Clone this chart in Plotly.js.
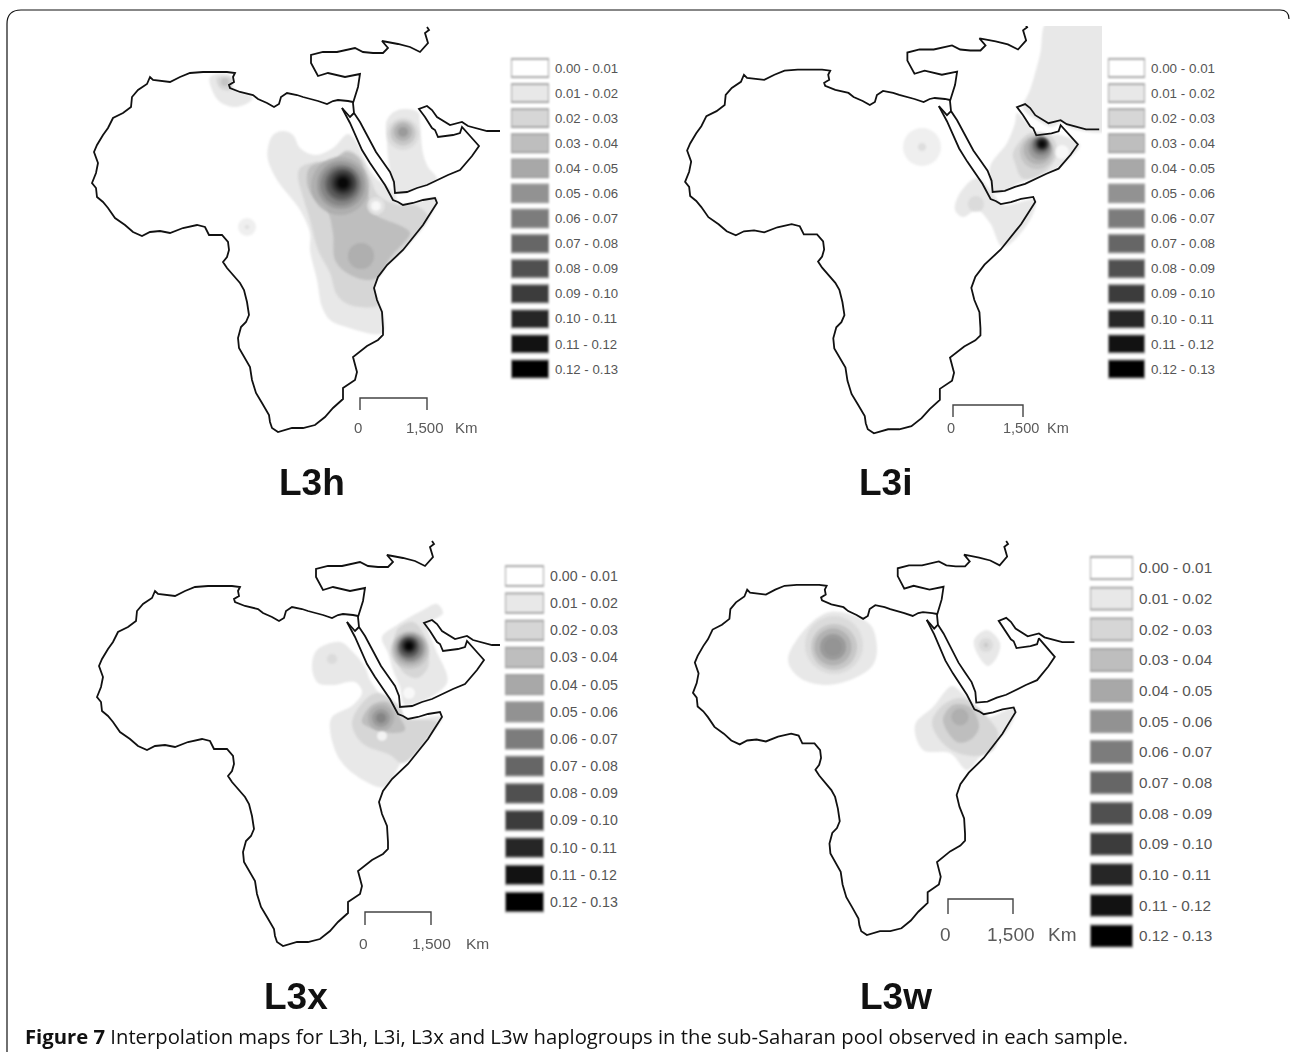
<!DOCTYPE html>
<html><head><meta charset="utf-8">
<script src="https://cdn.plot.ly/plotly-3.0.1.min.js"></script>
<style>html,body{margin:0;padding:0;background:#fff}
#c .fills,#c .points{filter:blur(1.1px)}
#c .lines{filter:blur(0.45px)}
#c .barlayer{filter:blur(0.5px)}
#c .ytick text{filter:blur(0.35px)}
</style></head><body><div id="c" style="width:1290px;height:1052px"></div>
<script>
// legend classes
const classLabels=["0.00 - 0.01","0.01 - 0.02","0.02 - 0.03","0.03 - 0.04","0.04 - 0.05","0.05 - 0.06","0.06 - 0.07","0.07 - 0.08","0.08 - 0.09","0.09 - 0.10","0.10 - 0.11","0.11 - 0.12","0.12 - 0.13"];
const classGreys=["#ffffff","#e8e8e8","#d6d6d6","#bebebe","#a8a8a8","#929292","#7c7c7c","#666666","#505050","#3c3c3c","#262626","#121212","#000000"];
const classBars=[1,1,1,1,1,1,1,1,1,1,1,1,1];
// coastline, in the units of the first map
const coastAfrica=[[353,102],[348,101],[338,100],[333,101],[327,104],[318,101],[303,97],[297,95],[287,93],[281,97],[279,104],[274,107],[267,103],[258,99],[253,95],[240,92],[230,88],[229,85],[234,82],[233,77],[235,73],[227,72],[213,72],[203,72],[190,73],[180,77],[170,82],[160,81],[153,80],[150,77],[147,84],[138,90],[132,97],[131,107],[123,113],[113,118],[108,128],[103,135],[97,145],[94,152],[98,163],[96,173],[92,183],[96,188],[97,197],[103,202],[108,208],[115,218],[125,225],[133,232],[142,236],[150,232],[160,231],[170,233],[183,228],[197,225],[205,227],[209,235],[222,235],[228,242],[229,250],[227,257],[223,262],[227,268],[233,275],[240,283],[244,290],[247,302],[249,315],[246,322],[241,327],[238,338],[239,348],[245,358],[250,367],[252,380],[256,393],[262,403],[269,415],[270,422],[272,428],[278,432],[292,428],[303,428],[315,425],[325,417],[333,408],[343,399],[343,388],[355,380],[357,372],[353,357],[367,346],[378,340],[383,335],[383,328],[382,312],[377,300],[374,288],[378,277],[387,265],[403,250],[417,233],[423,225],[428,217],[437,203],[435,198],[423,200],[413,203],[403,205],[398,202],[393,200],[385,185],[378,175],[370,163],[362,150],[356,137],[350,123],[342,108]];
const coastAsia=[[427,27],[429,30],[425,33],[428,43],[420,52],[410,47],[398,44],[382,41],[388,48],[383,53],[373,53],[363,52],[355,48],[337,52],[323,52],[311,55],[311,63],[318,76],[328,73],[337,75],[345,77],[360,74],[358,87],[353,103],[354,113],[360,122],[370,140],[376,152],[383,162],[390,172],[394,182],[395,193],[407,192],[417,188],[427,185],[437,180],[448,175],[460,170],[467,162],[472,156],[479,146],[472,138],[467,132],[462,127],[460,133],[453,135],[438,137],[435,130],[432,128],[425,117],[419,109],[427,106],[432,110],[437,117],[450,125],[462,122],[468,126],[487,131],[500,131]];
const coastSuez=[[342,108],[350,117],[354,113]];
// interpolated surfaces: [class, outline]
const areasL3h=[
[1,[[283,131],[293,135],[300,148],[315,155],[333,148],[348,134],[357,143],[363,157],[375,177],[395,193],[398,203],[417,202],[437,198],[425,225],[403,250],[387,265],[378,277],[374,288],[377,300],[382,310],[383,333],[343,326],[330,320],[322,307],[317,280],[310,250],[310,233],[300,210],[277,180],[268,160],[268,147],[273,135]]],
[1,[[210,77],[230,75],[233,88],[253,98],[237,107],[220,102],[212,90]]],
[2,[[217,78],[232,78],[230,90],[220,88]]],
[1,[[387,120],[398,110],[418,112],[420,123],[423,153],[428,167],[437,179],[417,188],[398,193],[390,170],[387,143]]],
[2,[[300,168],[315,162],[333,160],[347,150],[360,157],[370,177],[378,195],[398,205],[417,206],[428,217],[417,233],[403,250],[387,265],[378,277],[374,288],[378,305],[350,305],[337,295],[330,273],[318,250],[310,220],[303,197],[298,177]]],
[3,[[307,183],[310,167],[333,160],[347,152],[360,160],[368,193],[372,212],[403,227],[410,233],[390,258],[378,277],[367,280],[347,273],[335,260],[333,233],[327,210],[313,197]]]];
const peaksL3hX=[247,247,225,403,403,403,403,340,341,341,342,342,343,343,343,343,376,376,361];
const peaksL3hY=[227,227,82,134,133,132,132,186,185,185,184,184,183,183,183,183,206,206,256];
const peaksL3hD=[18,4,8,32,25,18,10,58,48,41,35,30,25,20,15,10,18,10,26];
const peaksL3hC=[1,2,3,2,3,4,5,4,5,6,7,8,9,10,11,12,1,0,4];
const areasL3i=[
[1,[[1023,108],[1030,90],[1040,55],[1048,20],[1115,20],[1115,128],[1070,128],[1062,122],[1052,127],[1037,120]]],
[1,[[1017,113],[1027,123],[1037,135],[1060,135],[1080,145],[1073,155],[1057,168],[1020,183],[995,193],[990,167],[1007,143],[1015,123]]],
[2,[[1013,153],[1030,133],[1052,137],[1057,153],[1050,167],[1033,178],[1022,178],[1015,163]]],
[1,[[977,178],[993,193],[1003,205],[1035,200],[1030,220],[1003,247],[990,223],[977,210],[963,217],[955,210],[960,193]]]];
const peaksL3iX=[922,922,1062,1037,1038,1040,1041,1041,1042,1042,1042,1042,1042,976];
const peaksL3iY=[147,147,152,152,150,148,146,145,144,144,144,144,144,204];
const peaksL3iD=[38,8,14,34,28,23,19,16,14,12,10,8,5,16];
const peaksL3iC=[1,2,0,3,4,5,6,7,8,9,10,11,12,2];
const areasL3x=[
[1,[[382,637],[397,625],[423,610],[437,604],[443,613],[428,625],[435,648],[447,683],[405,705],[400,687],[393,670],[388,653]]],
[2,[[397,630],[413,622],[425,637],[428,667],[417,678],[403,672],[395,653]]],
[1,[[340,642],[353,652],[365,667],[370,680],[383,697],[400,708],[405,718],[442,717],[437,727],[403,760],[385,787],[363,780],[340,760],[330,730],[332,717],[353,705],[362,692],[355,682],[333,685],[318,683],[312,667],[317,650]]],
[2,[[352,723],[365,700],[378,693],[400,707],[405,718],[437,722],[432,732],[403,763],[390,755],[362,743]]],
[3,[[362,722],[372,705],[387,702],[398,715],[405,730],[393,733],[377,730]]]];
const peaksL3xX=[410,410,410,410,409,409,409,409,409,409,409,332,381,381,381,409,382];
const peaksL3xY=[650,649,648,648,647,647,646,646,646,646,646,659,718,718,718,693,736];
const peaksL3xD=[38,33,29,25,22,19,16,13,10,7,4,10,26,18,10,12,10];
const peaksL3xC=[3,4,5,6,7,8,9,10,11,12,12,2,4,5,6,0,0];
const areasL3w=[
[1,[[788,660],[807,627],[830,612],[860,618],[872,627],[877,650],[873,665],[857,677],[827,685],[800,678]]],
[1,[[974,640],[987,630],[1000,643],[997,657],[988,666],[978,655]]],
[1,[[915,725],[933,707],[952,686],[962,693],[978,708],[987,717],[1015,708],[1010,727],[980,757],[967,770],[950,753],[923,750]]],
[2,[[932,723],[943,705],[962,698],[977,707],[988,718],[998,733],[993,750],[973,756],[947,747]]],
[3,[[943,720],[953,705],[970,707],[979,727],[970,740],[957,742]]]];
const peaksL3wX=[834,834,833,833,833,986,986,960];
const peaksL3wY=[645,647,647,647,647,645,645,717];
const peaksL3wD=[58,46,37,26,18,14,4,17];
const peaksL3wC=[2,3,4,5,5,2,3,4];

const panels=[
 {name:"L3h",areas:areasL3h,px:peaksL3hX,py:peaksL3hY,pd:peaksL3hD,pc:peaksL3hC,box:[60,505,20,450],sx:1,sy:1,ox:353,oy:102,
  sw:[511,549],rows:[68,369],fs:13.2,bar:[360,427,398,410],lab:[358,425,466,427],lfs:15,title:[312,482]},
 {name:"L3i",areas:areasL3i,px:peaksL3iX,py:peaksL3iY,pd:peaksL3iD,pc:peaksL3iC,box:[650,1102,26,450],sx:1.015,sy:1.01,ox:950,oy:100,
  sw:[1108,1145],rows:[68,369],fs:13.4,bar:[953,1023,405,417],lab:[951,1021,1058,428],lfs:14.5,title:[885,482]},
 {name:"L3x",areas:areasL3x,px:peaksL3xX,py:peaksL3xY,pd:peaksL3xD,pc:peaksL3xC,box:[60,500,540,960],sx:1,sy:1,ox:358,oy:616,
  sw:[505,544],rows:[576,902],fs:14.2,bar:[365,431,912,925],lab:[363,431,477,943],lfs:15.5,title:[296,996]},
 {name:"L3w",areas:areasL3w,px:peaksL3wX,py:peaksL3wY,pd:peaksL3wD,pc:peaksL3wC,box:[660,1085,540,950],sx:0.935,sy:0.973,ox:937,oy:614,
  sw:[1090,1133],rows:[568,936],fs:15.3,bar:[948,1013,899,914],lab:[946,1011,1062,934],lfs:19,title:[896,996]}
];
const W=1290,H=1052,data=[],layout={width:W,height:H,margin:{l:0,r:0,t:0,b:0},paper_bgcolor:"#fff",plot_bgcolor:"rgba(0,0,0,0)",showlegend:false,bargap:0.28,annotations:[],
 shapes:[{type:"path",xref:"paper",yref:"paper",line:{color:"#111",width:1.2},
  path:`M ${7/W} 0 L ${7/W} ${1-24/H} Q ${7/W} ${1-10/H} ${21/W} ${1-10/H} L ${1280/W} ${1-10/H} Q ${1289/W} ${1-10/H} ${1289/W} ${1-19/H}`}]};
const noAxis={visible:false,showgrid:false,zeroline:false,fixedrange:true};
const ann=(xr,yr,x,y,text,size,color,extra)=>layout.annotations.push(Object.assign({xref:xr,yref:yr,x,y,text,showarrow:false,font:{family:"Liberation Sans, Arial",size,color},xanchor:"center",yanchor:"middle"},extra||{}));
panels.forEach((p,i)=>{
 const a=i===0?"":String(i+1), xa="x"+a, ya="y"+a;
 const [x0,x1,y0,y1]=p.box;
 layout["xaxis"+a]=Object.assign({},noAxis,{range:[x0,x1],domain:[x0/W,x1/W],anchor:ya});
 layout["yaxis"+a]=Object.assign({},noAxis,{range:[y1,y0],domain:[1-y1/H,1-y0/H],anchor:xa});
 p.areas.forEach(([c,pts])=>data.push({type:"scatter",mode:"lines",xaxis:xa,yaxis:ya,x:pts.map(q=>q[0]).concat(pts[0][0]),y:pts.map(q=>q[1]).concat(pts[0][1]),fill:"toself",fillcolor:classGreys[c],line:{width:0,shape:"spline",smoothing:1},hoverinfo:"skip"}));
 data.push({type:"scatter",mode:"markers",xaxis:xa,yaxis:ya,x:p.px,y:p.py,marker:{size:p.pd,color:p.pc.map(c=>classGreys[c]),line:{width:0},sizemode:"diameter"},hoverinfo:"skip"});
 [coastAfrica,coastAsia,coastSuez].forEach(cs=>data.push({type:"scatter",mode:"lines",xaxis:xa,yaxis:ya,
   x:cs.map(q=>p.ox+p.sx*(q[0]-353)),y:cs.map(q=>p.oy+p.sy*(q[1]-102)),line:{color:"#111",width:1.8},hoverinfo:"skip"}));
 // scale bar
 const [b0,b1,bt,bb]=p.bar;
 data.push({type:"scatter",mode:"lines",xaxis:xa,yaxis:ya,x:[b0,b0,b1,b1],y:[bb,bt,bt,bb],line:{color:"#444",width:1.4},hoverinfo:"skip"});
 const [l0,l1,l2,ly]=p.lab;
 ann("paper","paper",l0/W,1-ly/H,"0",p.lfs,"#5a5a5a");
 ann("paper","paper",l1/W,1-ly/H,"1,500",p.lfs,"#5a5a5a");
 ann("paper","paper",l2/W,1-ly/H,"Km",p.lfs,"#5a5a5a");
 ann("paper","paper",p.title[0]/W,1-p.title[1]/H,`<b>${p.name}</b>`,37,"#111");
 // legend
 const k=String(i+5), step=(p.rows[1]-p.rows[0])/12, top=p.rows[0]-step/2, bot=p.rows[1]+step/2;
 layout["xaxis"+k]=Object.assign({},noAxis,{range:[0,1],domain:[p.sw[0]/W,p.sw[1]/W],anchor:"y"+k});
 layout["yaxis"+k]={type:"category",categoryorder:"array",categoryarray:classLabels,autorange:"reversed",side:"right",domain:[1-bot/H,1-top/H],anchor:"x"+k,showgrid:false,zeroline:false,showline:false,ticks:"",ticklabelstandoff:5,fixedrange:true,tickfont:{family:"Liberation Sans, Arial",size:p.fs,color:"#555"},tickmode:"array",tickvals:classLabels,ticktext:classLabels};
 data.push({type:"bar",orientation:"h",xaxis:"x"+k,yaxis:"y"+k,y:classLabels,x:classBars,cliponaxis:false,marker:{color:classGreys,line:{color:"#a0a0a0",width:1.8}},hoverinfo:"skip"});
});
ann("paper","paper",23/W,1-1036/H,"<b>Figure 7</b> Interpolation maps for L3h, L3i, L3x and L3w haplogroups in the sub-Saharan pool observed in each sample.",20.25,"#111",{xanchor:"left"});
layout.annotations[layout.annotations.length-1].font.family="Open Sans, Noto Sans";
Plotly.newPlot("c",data,layout,{displayModeBar:false,staticPlot:true});
</script></body></html>
